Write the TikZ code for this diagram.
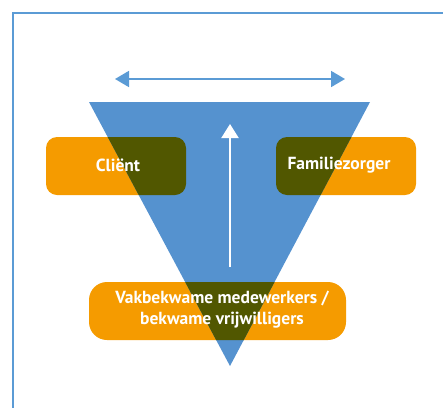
\documentclass[tikz,border=0pt]{standalone}
\usepackage{fontspec}
\setmainfont{PT Sans}
\usetikzlibrary{arrows.meta}
\definecolor{frameblue}{HTML}{5B9BD5}
\definecolor{triblue}{HTML}{5592CF}
\definecolor{boxorange}{HTML}{F59B00}
\definecolor{overlap}{HTML}{515700}
\begin{document}
\begin{tikzpicture}[x=1pt,y=-1pt,
  boxshape/.style={fill=boxorange, rounded corners=11pt},
  darkshape/.style={fill=overlap, rounded corners=11pt},
  lbl/.style={text=white, font=\fontsize{17.5}{21}\selectfont\bfseries, align=center, inner sep=0pt}]
\useasboundingbox (0,0) rectangle (443,407);
\clip (0,0) rectangle (443,407);
% frame
\draw[frameblue, line width=2pt] (13,13) rectangle (460,430);
% orange boxes
\path[boxshape] (46,137) rectangle (186,195);
\path[boxshape] (276,137) rectangle (416,195);
\path[boxshape, rounded corners=18pt] (89,282) rectangle (346,340);
% triangle
\fill[triblue] (89,102) coordinate (tl) -- (370,102) coordinate (tr) -- (230,366) coordinate (ap) -- cycle;
% overlaps
\begin{scope}
\clip (tl) -- (tr) -- (ap) -- cycle;
\path[darkshape] (46,137) rectangle (186,195);
\path[darkshape] (276,137) rectangle (416,195);
\path[darkshape, rounded corners=18pt] (89,282) rectangle (346,340);
\end{scope}
% labels
\node[lbl] (client) at (118,165) {Cliënt};
\node[lbl] (fam) at (339,165) {Familiezorger};
\node[lbl] (vak) at (222,310) {Vakbekwame medewerkers /\\bekwame vrijwilligers};
% arrows
\coordinate (la) at (115,79);
\coordinate (ra) at (345,79);
\draw[frameblue, line width=1.8pt, {Triangle[length=14pt,width=16pt]}-{Triangle[length=14pt,width=16pt]}] (la) -- (ra);
\coordinate (ub) at (230,267);
\coordinate (ut) at (230,124);
\draw[white, line width=2pt, -{Triangle[length=14pt,width=17pt]}] (ub) -- (ut);
\end{tikzpicture}
\end{document}
